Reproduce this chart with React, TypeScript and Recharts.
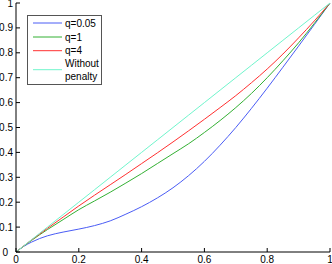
import React from "react";
import { LineChart, Line, XAxis, YAxis, Legend } from "recharts";

const xs = [0, 0.025, 0.05, 0.075, 0.1, 0.15, 0.2, 0.25, 0.3, 0.35, 0.4, 0.45, 0.5, 0.55, 0.6, 0.65, 0.7, 0.75, 0.8, 0.85, 0.9, 0.95, 1];
const q005 = [0, 0.023, 0.04, 0.054, 0.065, 0.08, 0.092, 0.106, 0.125, 0.152, 0.182, 0.217, 0.258, 0.307, 0.364, 0.429, 0.5, 0.577, 0.658, 0.742, 0.827, 0.913, 1];
const q1 = [0, 0.024, 0.047, 0.069, 0.09, 0.13, 0.17, 0.205, 0.24, 0.277, 0.315, 0.355, 0.395, 0.435, 0.48, 0.528, 0.58, 0.637, 0.7, 0.768, 0.84, 0.918, 1];
const q4 = [0, 0.025, 0.049, 0.072, 0.095, 0.14, 0.185, 0.228, 0.27, 0.312, 0.355, 0.398, 0.442, 0.487, 0.533, 0.58, 0.628, 0.68, 0.735, 0.795, 0.86, 0.928, 1];
const noPenalty = [0, 0.025, 0.05, 0.075, 0.1, 0.15, 0.2, 0.25, 0.3, 0.35, 0.4, 0.45, 0.5, 0.55, 0.6, 0.65, 0.7, 0.75, 0.8, 0.85, 0.9, 0.95, 1];

const xTicks = [0, 0.2, 0.4, 0.6, 0.8, 1];
const yTicks = [0, 0.1, 0.2, 0.3, 0.4, 0.5, 0.6, 0.7, 0.8, 0.9, 1];

const seriesNames = ["q=0.05", "q=1", "q=4", "Without penalty"];
const seriesKeys = ["a", "b", "c", "d"];
const seriesColors = ["#4a5cf5", "#33b033", "#ff3030", "#70f5cc"];

const data = xs.map((x, i) => ({ x, a: q005[i], b: q1[i], c: q4[i], d: noPenalty[i] }));

const FONT = "'Liberation Sans', Arial, Helvetica, sans-serif";
const TL = 4;

const fmt = (v: number) => String(Math.round(v * 10) / 10);

const BottomTick = (props: any) => {
  const { x, y, payload } = props;
  return (
    <g>
      <line x1={x} y1={y} x2={x} y2={y - TL} stroke="#000" strokeWidth={1} />
      <text x={x} y={y + 10.5} textAnchor="middle" fontSize={10} fontFamily={FONT} fill="#000">
        {fmt(payload.value)}
      </text>
    </g>
  );
};

const TopTick = (props: any) => {
  const { x, y } = props;
  return <line x1={x} y1={y} x2={x} y2={y + TL} stroke="#000" strokeWidth={1} />;
};

const LeftTick = (props: any) => {
  const { x, y, payload } = props;
  const tx = payload.value === 0 ? x - 8 : x - 3;
  return (
    <g>
      <line x1={x} y1={y} x2={x + TL} y2={y} stroke="#000" strokeWidth={1} />
      <text x={tx} y={y + 3.5} textAnchor="end" fontSize={10} fontFamily={FONT} fill="#000">
        {fmt(payload.value)}
      </text>
    </g>
  );
};

const RightTick = (props: any) => {
  const { x, y } = props;
  return <line x1={x} y1={y} x2={x - TL} y2={y} stroke="#000" strokeWidth={1} />;
};

const legendRows = [
  { lineY: 8, texts: [["q=0.05", 8]] },
  { lineY: 22, texts: [["q=1", 22]] },
  { lineY: 35.7, texts: [["q=4", 35.7]] },
  { lineY: 54.7, texts: [["Without", 48], ["penalty", 61]] },
];

const renderLegend = () => (
  <svg width={75} height={70} style={{ display: "block" }}>
    <rect x={0.5} y={0.5} width={74} height={69} fill="#fff" stroke="#555" strokeWidth={1} />
    {legendRows.map((r, i) => (
      <g key={seriesKeys[i]}>
        <line x1={6} y1={r.lineY} x2={35} y2={r.lineY} stroke={seriesColors[i]} strokeWidth={1} />
        {r.texts.map(([t, ty]) => (
          <text key={String(t)} x={38} y={(ty as number) + 3.5} fontSize={10} fontFamily={FONT} fill="#000">
            {t}
          </text>
        ))}
      </g>
    ))}
  </svg>
);

export default function App() {
  return (
    <div style={{ position: "absolute", left: 0, top: 0, width: 332, height: 264, background: "#fff" }}>
      <LineChart width={332} height={264} data={data} margin={{ top: 3, right: 2, left: 0, bottom: 0 }}>
        <XAxis
          dataKey="x"
          type="number"
          domain={[0, 1]}
          ticks={xTicks}
          interval={0}
          height={12}
          tickSize={0}
          tickMargin={0}
          axisLine={{ stroke: "#000" }}
          tickLine={false}
          tick={BottomTick}
        />
        <XAxis
          xAxisId="top"
          orientation="top"
          dataKey="x"
          type="number"
          domain={[0, 1]}
          ticks={xTicks}
          interval={0}
          height={0}
          tickSize={0}
          tickMargin={0}
          axisLine={{ stroke: "#000" }}
          tickLine={false}
          tick={TopTick}
        />
        <YAxis
          type="number"
          domain={[0, 1]}
          ticks={yTicks}
          interval={0}
          width={16}
          tickSize={0}
          tickMargin={0}
          axisLine={{ stroke: "#000" }}
          tickLine={false}
          tick={LeftTick}
        />
        <YAxis
          yAxisId="right"
          orientation="right"
          type="number"
          domain={[0, 1]}
          ticks={yTicks}
          interval={0}
          width={0}
          tickSize={0}
          tickMargin={0}
          axisLine={{ stroke: "#000" }}
          tickLine={false}
          tick={RightTick}
        />
        {seriesKeys.map((k, i) => (
          <Line
            key={k}
            dataKey={k}
            name={seriesNames[i]}
            stroke={seriesColors[i]}
            strokeWidth={1}
            dot={false}
            type="monotone"
            isAnimationActive={false}
          />
        ))}
        <Legend
          layout="vertical"
          align="center"
          verticalAlign="middle"
          content={renderLegend}
          wrapperStyle={{ position: "absolute", left: 27, top: 15, width: 75, height: 70 }}
        />
      </LineChart>
    </div>
  );
}
